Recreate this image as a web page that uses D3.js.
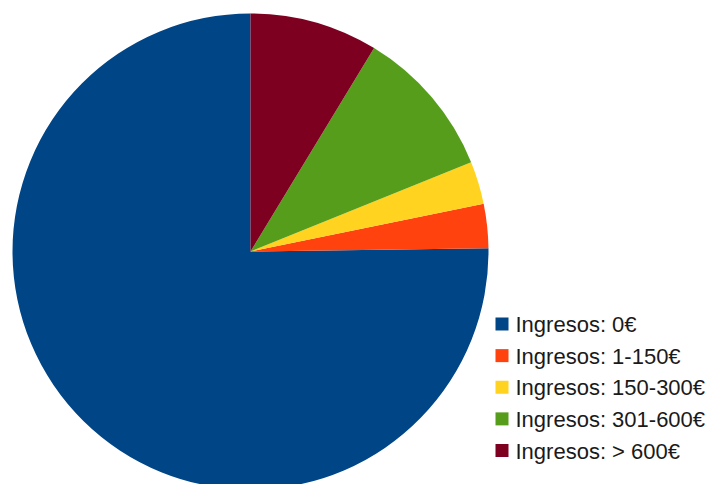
<!DOCTYPE html>
<html>
<head>
<meta charset="utf-8">
<script src="https://cdn.jsdelivr.net/npm/d3@7"></script>
<style>
  body { margin: 0; background: #fff; }
  svg { display: block; }
</style>
</head>
<body>
<svg id="chart"></svg>
<script>
// categories and values (percent of total)
const categories = ["Ingresos: 0€", "Ingresos: 1-150€", "Ingresos: 150-300€", "Ingresos: 301-600€", "Ingresos: > 600€"]
const values = [75.3, 3.0, 2.9, 10.2, 8.7]
const colors = ["#004586", "#ff420e", "#ffd320", "#579d1c", "#7e0021"]

const WIDTH = 705
const HEIGHT = 484
const CX = 250.5
const CY = 251.5
const RADIUS = 238

const svg = d3.select("#chart")
    .attr("width", WIDTH)
    .attr("height", HEIGHT)

const color = d3.scaleOrdinal().domain(categories).range(colors)

// LibreOffice style: start at 12 o'clock, go counter-clockwise
const pie = d3.pie()
    .sort(null)
    .value(d => d.value)
    .startAngle(0)
    .endAngle(-2 * Math.PI)

const arc = d3.arc().innerRadius(0).outerRadius(RADIUS)

const data = categories.map((c, i) => ({ name: c, value: values[i] }))

svg.append("g")
    .attr("transform", `translate(${CX}, ${CY})`)
    .selectAll("path")
    .data(pie(data))
    .enter()
    .append("path")
    .attr("d", arc)
    .attr("fill", d => color(d.data.name))

// legend
const legendY = d3.scalePoint().domain(categories).range([324, 450.5])

const legend = svg.append("g")
    .selectAll("g")
    .data(categories)
    .enter()
    .append("g")
    .attr("transform", d => `translate(495.5, ${legendY(d)})`)

legend.append("rect")
    .attr("x", 0)
    .attr("y", -6.5)
    .attr("width", 13)
    .attr("height", 13)
    .attr("fill", d => color(d))

legend.append("text")
    .attr("x", 20)
    .attr("y", 8)
    .attr("font-family", "'Liberation Sans', Arial, sans-serif")
    .attr("font-size", 22)
    .attr("fill", "#1a1a1a")
    .text(d => d)
</script>
</body>
</html>
